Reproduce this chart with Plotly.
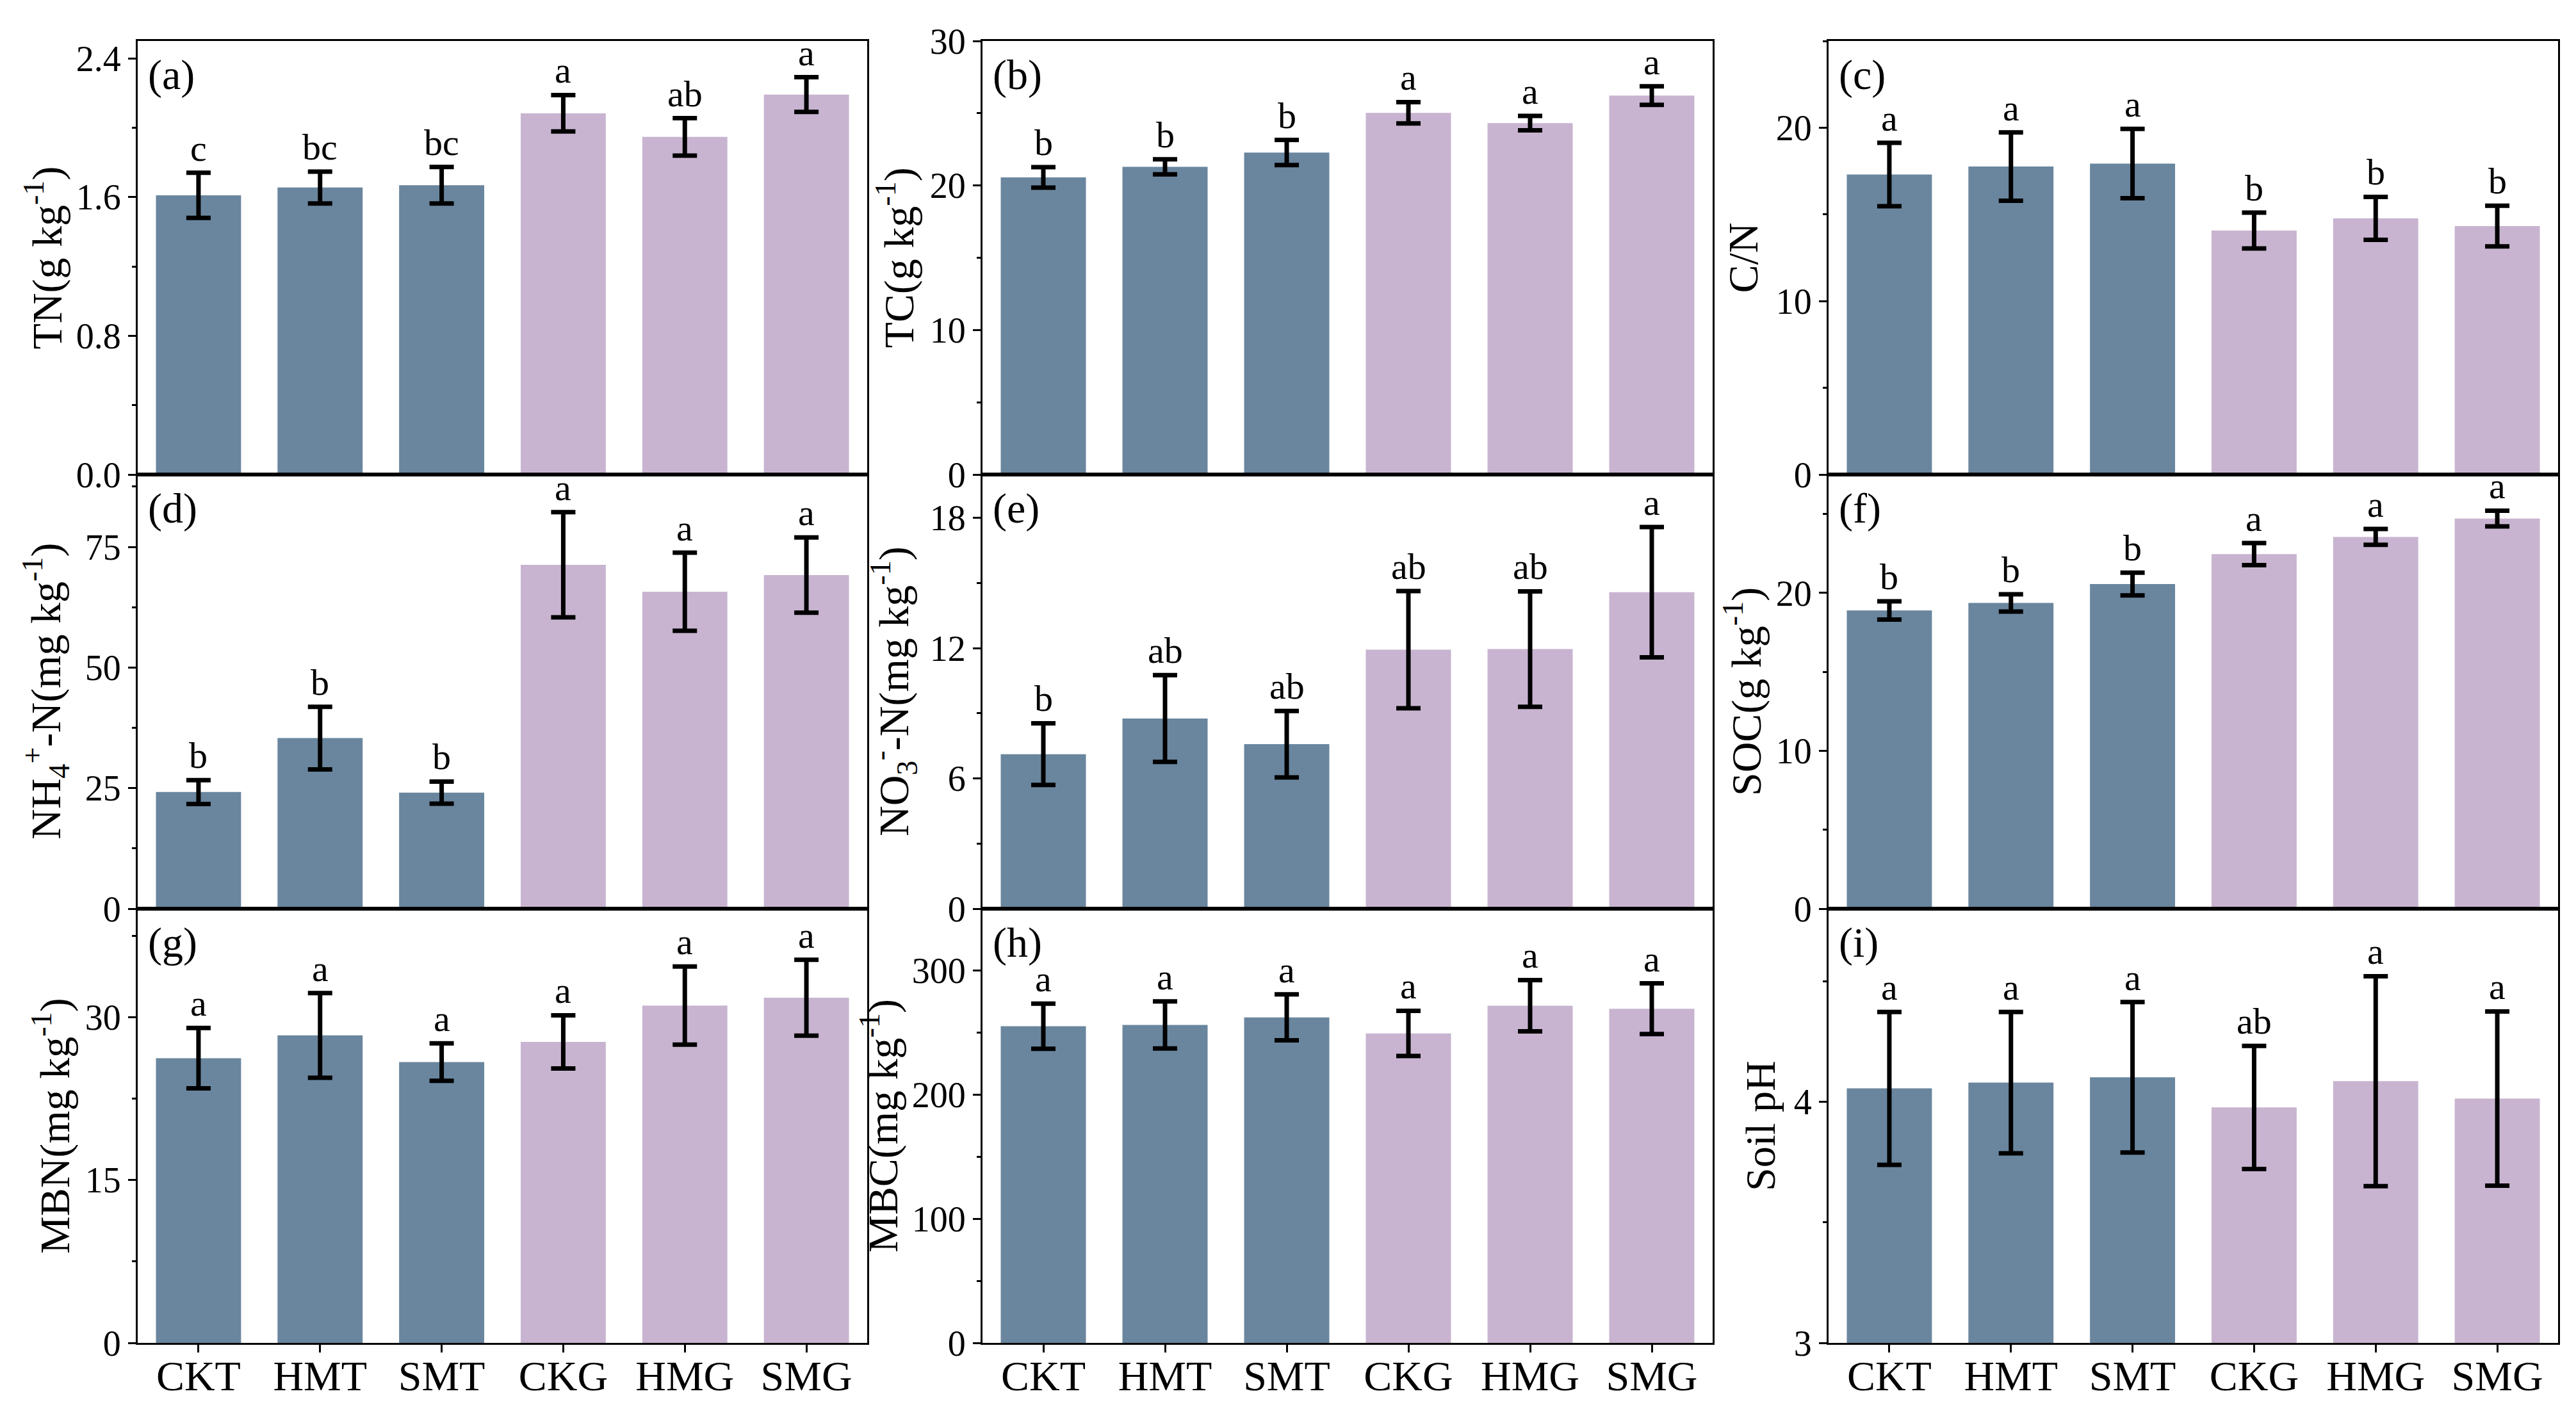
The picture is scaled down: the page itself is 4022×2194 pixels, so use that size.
import plotly.graph_objects as go

# treatment groups (first three = T, last three = G)
groups = ["CKT", "HMT", "SMT", "CKG", "HMG", "SMG"]
bar_colors = ["#6A869E"] * 3 + ["#C8B4D0"] * 3

# values: mean, sd, significance letters
tn_mean = [1.61, 1.655, 1.668, 2.083, 1.947, 2.191]
tn_sd = [0.13, 0.092, 0.105, 0.105, 0.108, 0.100]
tn_sig = ["c", "bc", "bc", "a", "ab", "a"]

tc_mean = [20.56, 21.29, 22.28, 25.03, 24.32, 26.22]
tc_sd = [0.71, 0.52, 0.87, 0.74, 0.50, 0.64]
tc_sig = ["b", "b", "b", "a", "a", "a"]

cn_mean = [17.30, 17.76, 17.93, 14.07, 14.77, 14.33]
cn_sd = [1.83, 1.97, 2.00, 1.03, 1.24, 1.17]
cn_sig = ["a", "a", "a", "b", "b", "b"]

nh4_mean = [24.18, 35.36, 24.06, 71.29, 65.70, 69.16]
nh4_sd = [2.48, 6.50, 2.30, 10.9, 8.10, 7.80]
nh4_sig = ["b", "b", "b", "a", "a", "a"]

no3_mean = [7.12, 8.76, 7.58, 11.93, 11.96, 14.58]
no3_sd = [1.42, 2.00, 1.53, 2.70, 2.66, 3.00]
no3_sig = ["b", "ab", "ab", "ab", "ab", "a"]

soc_mean = [18.89, 19.37, 20.56, 22.46, 23.55, 24.71]
soc_sd = [0.58, 0.55, 0.72, 0.70, 0.50, 0.50]
soc_sig = ["b", "b", "b", "a", "a", "a"]

mbn_mean = [26.23, 28.33, 25.87, 27.73, 31.08, 31.80]
mbn_sd = [2.78, 3.90, 1.73, 2.45, 3.60, 3.50]
mbn_sig = ["a", "a", "a", "a", "a", "a"]

mbc_mean = [255.3, 256.3, 262.4, 249.5, 271.8, 269.4]
mbc_sd = [18.2, 19.0, 18.5, 18.2, 20.7, 20.4]
mbc_sig = ["a", "a", "a", "a", "a", "a"]

ph_mean = [4.055, 4.079, 4.101, 3.976, 4.085, 4.013]
ph_sd = [0.317, 0.293, 0.312, 0.255, 0.435, 0.361]
ph_sig = ["a", "a", "a", "ab", "a", "a"]

# label, y title, mean, sd, letters, y range, major dtick, minor dtick, tick format, title offset (px)
panels = [
    ("(a)", "TN(g kg<sup>-1</sup>)", tn_mean, tn_sd, tn_sig, [0, 2.5], 0.8, 0.4, ".1f", 146),
    ("(b)", "TC(g kg<sup>-1</sup>)", tc_mean, tc_sd, tc_sig, [0, 30], 10, 5, "", 135),
    ("(c)", "C/N", cn_mean, cn_sd, cn_sig, [0, 25], 10, 5, "", 134),
    ("(d)", "NH<sub>4</sub><sup>+</sup>-N(mg kg<sup>-1</sup>)", nh4_mean, nh4_sd, nh4_sig, [0, 90], 25, 12.5, "", 144),
    ("(e)", "NO<sub>3</sub><sup>-</sup>-N(mg kg<sup>-1</sup>)", no3_mean, no3_sd, no3_sig, [0, 20], 6, 3, "", 139),
    ("(f)", "SOC(g kg<sup>-1</sup>)", soc_mean, soc_sd, soc_sig, [0, 27.5], 10, 5, "", 133),
    ("(g)", "MBN(mg kg<sup>-1</sup>)", mbn_mean, mbn_sd, mbn_sig, [0, 40], 15, 7.5, "", 134),
    ("(h)", "MBC(mg kg<sup>-1</sup>)", mbc_mean, mbc_sd, mbc_sig, [0, 350], 100, 50, "", 160),
    ("(i)", "Soil pH", ph_mean, ph_sd, ph_sig, [3, 4.8], 1, 0.5, "", 107),
]

W, H = 4022, 2194
col_px = [(207, 1346), (1526, 2666), (2847, 3986)]
row_px = [(56, 733), (733, 1411), (1411, 2089)]

FONT = "Liberation Serif, Times New Roman, serif"

fig = go.Figure()
annotations = []
layout_axes = {}

for i, (lab, ytitle, mean, sd, sig, yr, dt, mdt, fmt, toff) in enumerate(panels):
    r, c = divmod(i, 3)
    n = "" if i == 0 else str(i + 1)
    xa, ya = "x" + n, "y" + n

    fig.add_trace(go.Bar(
        x=groups, y=mean,
        marker=dict(color=bar_colors, line=dict(width=0)),
        error_y=dict(type="data", array=sd, visible=True, color="black", thickness=7, width=19),
        xaxis=xa, yaxis=ya, showlegend=False,
    ))

    x0, x1 = col_px[c]
    y0, y1 = row_px[r]
    bottom = r == 2
    layout_axes["xaxis" + n] = dict(
        domain=[x0 / W, x1 / W], anchor=ya, type="category", range=[-0.5, 5.5],
        automargin=False,
        showline=True, linecolor="black", linewidth=3, mirror=True,
        showgrid=False, zeroline=False,
        ticks="outside" if bottom else "", ticklen=12, tickwidth=2.5, tickcolor="black",
        ticklabelstandoff=-20,
        showticklabels=bottom, tickfont=dict(size=66, color="black", family=FONT),
    )
    layout_axes["yaxis" + n] = dict(
        domain=[1 - y1 / H, 1 - y0 / H], anchor=xa, range=yr,
        automargin=False,
        tick0=0, dtick=dt, tickformat=fmt,
        showline=True, linecolor="black", linewidth=3, mirror=True,
        showgrid=False, zeroline=False,
        ticks="outside", ticklen=12, tickwidth=2.5, tickcolor="black",
        tickfont=dict(size=56, color="black", family=FONT),
        minor=dict(dtick=mdt, ticks="outside", ticklen=6, tickwidth=2.5,
                   tickcolor="black", showgrid=False),
    )

    # panel label
    annotations.append(dict(
        text=lab, xref=xa + " domain", yref=ya + " domain", x=0, y=1,
        xanchor="left", yanchor="top", xshift=14, yshift=-14, showarrow=False,
        font=dict(size=66, color="black", family=FONT),
    ))
    # y axis title
    annotations.append(dict(
        text=ytitle, xref="paper", yref=ya + " domain", x=(x0 - toff) / W, y=0.5,
        xanchor="center", yanchor="middle", textangle=-90, showarrow=False,
        font=dict(size=66, color="black", family=FONT),
    ))
    # significance letters
    for g, m, s, t in zip(groups, mean, sd, sig):
        annotations.append(dict(
            text=t, x=g, y=m + s, xref=xa, yref=ya, xanchor="center", yanchor="bottom",
            yshift=4, showarrow=False, font=dict(size=58, color="black", family=FONT),
        ))

fig.update_layout(
    width=W, height=H, margin=dict(l=0, r=0, t=0, b=0),
    plot_bgcolor="white", paper_bgcolor="white",
    bargap=0.3, font=dict(family=FONT, color="black"),
    annotations=annotations, **layout_axes,
)

fig.write_html("out.html")
